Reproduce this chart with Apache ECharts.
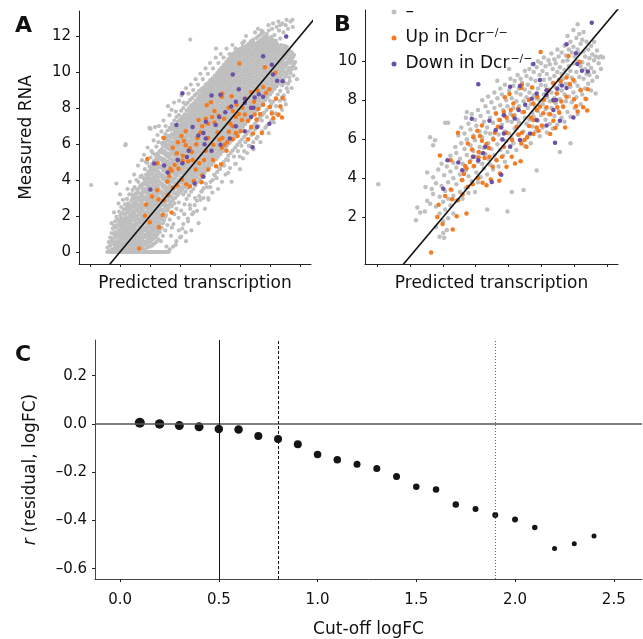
<!DOCTYPE html>
<html>
<head>
<meta charset="utf-8">
<script src="https://cdn.jsdelivr.net/npm/echarts@6/dist/echarts.min.js"></script>
<style>
html, body { margin: 0; padding: 0; background: #fff; }
#main { width: 643px; height: 639px; }
</style>
</head>
<body>
<div id="main"></div>
<script>
// gray genes, one row per predicted value: [x, measured y, measured y, ...]
var grayA = [
  [0.04, 3.72], [0.58, 0, 0.25], [0.63, 0.05, 0.55], [0.67, 0, 0.35, 0.8], [0.72, 0, 0.15, 0.6, 1.05],
  [0.76, 0, 0.45, 0.75, 1.3], [0.81, 0, 0.2, 0.55, 0.95, 1.45], [0.84, 0, 0.35, 0.8, 1.1, 1.7],
  [0.88, 0, 0.15, 0.5, 0.9, 1.35, 1.95, 3.8], [0.93, 0, 0.3, 0.65, 1.05, 1.5, 1.8],
  [0.97, 0, 0.1, 0.45, 0.85, 1.2, 1.6, 2.25], [1.01, 0, 0.25, 0.6, 0.95, 1.4, 1.75, 2.05],
  [1.04, 0, 0.05, 0.4, 0.75, 1.15, 1.55, 1.9, 2.5], [1.08, 0, 0.3, 0.55, 0.9, 1.3, 1.65, 2.15],
  [1.12, 0, 0.15, 0.45, 0.8, 1.1, 1.45, 1.85, 2.35], [1.16, 0, 0.35, 0.7, 1.0, 1.35, 1.75, 2.1, 2.65],
  [1.19, 0, 0.1, 0.5, 0.85, 1.2, 1.6, 1.95, 2.4, 6.0], [1.23, 0, 0.25, 0.65, 0.95, 1.3, 1.7, 2.2, 2.55, 2.95],
  [1.27, 0, 0.4, 0.75, 1.1, 1.45, 1.85, 2.3, 2.7], [1.31, 0, 0.2, 0.55, 0.9, 1.25, 1.65, 2.0, 2.45, 3.2],
  [1.34, 0, 0.35, 0.7, 1.05, 1.4, 1.8, 2.15, 2.6], [1.38, 0, 0.1, 0.5, 0.85, 1.2, 1.55, 1.95, 2.35, 2.85],
  [1.42, 0, 0.3, 0.65, 1.0, 1.35, 1.75, 2.1, 2.5, 3.0, 3.45], [1.46, 0, 0.15, 0.5, 0.8, 1.15, 1.5, 1.9, 2.25, 2.7, 3.1],
  [1.49, 0, 0.4, 0.7, 1.05, 1.4, 1.8, 2.2, 2.55, 2.95, 3.6], [1.53, 0, 0.2, 0.55, 0.9, 1.25, 1.6, 2.0, 2.4, 2.8, 3.25],
  [1.57, 0, 0.35, 0.75, 1.1, 1.5, 1.85, 2.3, 2.65, 3.05, 3.45], [1.61, 0, 0.1, 0.5, 0.85, 1.2, 1.65, 2.05, 2.45, 2.9, 3.3, 3.9],
  [1.64, 0, 0.3, 0.65, 1.0, 1.4, 1.8, 2.2, 2.6, 3.0, 3.55], [1.68, 0, 0.15, 0.55, 0.9, 1.3, 1.7, 2.1, 2.5, 2.85, 3.25, 3.7],
  [1.72, 0, 0.4, 0.75, 1.15, 1.55, 1.95, 2.35, 2.75, 3.15, 3.6, 4.25], [1.76, 0, 0.2, 0.6, 1.0, 1.4, 1.8, 2.25, 2.65, 3.05, 3.4, 3.8],
  [1.79, 0, 0.35, 0.8, 1.2, 1.6, 2.0, 2.45, 2.9, 3.3, 3.75, 4.1], [1.83, 0, 0.1, 0.55, 0.95, 1.35, 1.8, 2.2, 2.6, 3.05, 3.5, 3.95, 4.6],
  [1.87, 0, 0.45, 0.85, 1.25, 1.7, 2.1, 2.55, 2.95, 3.4, 3.85, 4.3], [1.91, 0, 0.25, 0.65, 1.1, 1.5, 1.95, 2.4, 2.8, 3.25, 3.7, 4.15, 4.95],
  [1.94, 0, 0.5, 0.9, 1.35, 1.8, 2.2, 2.65, 3.1, 3.55, 4.0, 4.45], [1.98, 0, 0.3, 0.75, 1.15, 1.6, 2.05, 2.5, 2.95, 3.4, 3.85, 4.3, 4.75, 6.9],
  [2.02, 0, 0.55, 1.0, 1.45, 1.9, 2.35, 2.8, 3.2, 3.65, 4.1, 4.6, 5.25, 6.85], [2.06, 0, 0.35, 0.85, 1.3, 1.75, 2.2, 2.65, 3.1, 3.5, 3.95, 4.45, 4.9],
  [2.09, 0, 0.7, 1.15, 1.6, 2.05, 2.5, 2.95, 3.4, 3.85, 4.3, 4.75, 5.5], [2.13, 0, 0.45, 0.95, 1.4, 1.85, 2.3, 2.8, 3.25, 3.7, 4.15, 4.6, 5.05],
  [2.17, 0, 0.8, 1.25, 1.7, 2.15, 2.65, 3.1, 3.55, 4.0, 4.5, 4.95, 5.4], [2.21, 0, 0.55, 1.05, 1.5, 2.0, 2.45, 2.9, 3.4, 3.85, 4.3, 4.8, 5.2, 5.85],
  [2.24, 0, 0.95, 1.4, 1.85, 2.3, 2.75, 3.25, 3.7, 4.15, 4.65, 5.1, 5.45], [2.28, 0, 0.7, 1.2, 1.65, 2.15, 2.6, 3.05, 3.55, 4.0, 4.45, 4.95, 5.35, 6.1],
  [2.32, 0, 1.1, 1.55, 2.0, 2.5, 2.95, 3.4, 3.9, 4.35, 4.8, 5.25, 5.6], [2.36, 0, 0.6, 1.3, 1.8, 2.3, 2.8, 3.25, 3.75, 4.2, 4.7, 5.15, 5.55],
  [2.39, 0, 1.35, 1.85, 2.35, 2.85, 3.35, 3.8, 4.3, 4.75, 5.2, 5.7, 6.05], [2.43, 0, 0.9, 1.6, 2.1, 2.6, 3.1, 3.6, 4.05, 4.55, 5.0, 5.5, 5.9, 6.35],
  [2.47, 0, 1.75, 2.25, 2.75, 3.25, 3.7, 4.2, 4.7, 5.15, 5.6, 6.1], [2.51, 0, 1.2, 1.95, 2.45, 2.95, 3.45, 3.95, 4.45, 4.9, 5.4, 5.85, 6.55],
  [2.54, 0, 2.05, 2.6, 3.1, 3.6, 4.1, 4.6, 5.05, 5.5, 6.0, 6.35], [2.58, 0, 1.5, 2.3, 2.85, 3.35, 3.85, 4.35, 4.8, 5.3, 5.75, 6.2, 6.75],
  [2.62, 0, 2.45, 2.95, 3.5, 4.0, 4.5, 5.0, 5.45, 5.95, 6.45], [2.66, 0.15, 1.8, 2.65, 3.2, 3.7, 4.2, 4.75, 5.2, 5.7, 6.15, 6.9],
  [2.69, 2.8, 3.35, 3.9, 4.4, 4.9, 5.4, 5.9, 6.35, 6.8], [2.73, 1.35, 2.55, 3.05, 3.6, 4.1, 4.65, 5.15, 5.6, 6.1, 6.55, 7.1],
  [2.77, 0.3, 2.9, 3.45, 4.0, 4.5, 5.0, 5.55, 6.0, 6.5, 6.95], [2.81, 2.1, 2.7, 3.25, 3.8, 4.3, 4.85, 5.35, 5.85, 6.3, 6.75, 7.3],
  [2.84, 3.0, 3.55, 4.1, 4.6, 5.15, 5.65, 6.15, 6.6, 7.05], [2.88, 0.6, 2.4, 3.3, 3.85, 4.4, 4.9, 5.45, 5.95, 6.45, 6.9, 7.5],
  [2.92, 3.15, 3.7, 4.25, 4.75, 5.3, 5.8, 6.3, 6.75, 7.25], [2.96, 1.2, 2.75, 3.45, 4.0, 4.55, 5.05, 5.6, 6.1, 6.6, 7.05, 7.6],
  [3.00, 3.3, 3.85, 4.4, 4.9, 5.45, 5.95, 6.45, 6.9, 7.35], [3.04, 0.85, 2.3, 3.6, 4.15, 4.7, 5.2, 5.75, 6.25, 6.75, 7.2, 7.85],
  [3.07, 3.45, 4.0, 4.55, 5.05, 5.6, 6.1, 6.6, 7.05, 7.5], [3.11, 1.55, 3.2, 3.8, 4.35, 4.85, 5.4, 5.9, 6.4, 6.9, 7.35, 8.0],
  [3.15, 2.65, 3.6, 4.15, 4.7, 5.2, 5.75, 6.25, 6.75, 7.2, 7.65], [3.19, 1.1, 3.35, 3.95, 4.5, 5.0, 5.55, 6.05, 6.6, 7.05, 7.5, 8.2],
  [3.22, 2.95, 3.75, 4.3, 4.85, 5.35, 5.9, 6.4, 6.9, 7.35, 7.85], [3.26, 1.85, 3.55, 4.1, 4.65, 5.15, 5.7, 6.2, 6.75, 7.2, 7.65, 8.3],
  [3.30, 3.15, 3.9, 4.45, 5.0, 5.5, 6.05, 6.55, 7.05, 7.5, 8.0], [3.34, 2.4, 3.7, 4.25, 4.8, 5.35, 5.85, 6.4, 6.9, 7.35, 7.8, 8.45, 11.8],
  [3.37, 3.35, 4.05, 4.6, 5.15, 5.7, 6.2, 6.7, 7.2, 7.65, 8.15], [3.41, 2.1, 3.85, 4.4, 4.95, 5.5, 6.0, 6.55, 7.05, 7.5, 7.95, 8.55],
  [3.45, 3.5, 4.2, 4.75, 5.3, 5.85, 6.35, 6.85, 7.35, 7.8, 8.25], [3.49, 2.6, 4.0, 4.55, 5.1, 5.65, 6.2, 6.7, 7.2, 7.65, 8.1, 8.7],
  [3.52, 3.7, 4.35, 4.9, 5.45, 6.0, 6.5, 7.0, 7.5, 7.95, 8.4], [3.56, 2.85, 4.15, 4.7, 5.25, 5.8, 6.35, 6.85, 7.35, 7.8, 8.25, 8.8],
  [3.60, 3.9, 4.5, 5.05, 5.6, 6.15, 6.65, 7.15, 7.65, 8.1, 8.55], [3.64, 3.1, 4.3, 4.85, 5.4, 5.95, 6.5, 7.0, 7.5, 7.95, 8.4, 8.95],
  [3.67, 4.05, 4.65, 5.2, 5.75, 6.3, 6.8, 7.3, 7.8, 8.25, 8.7], [3.71, 3.35, 4.45, 5.0, 5.55, 6.1, 6.65, 7.15, 7.65, 8.1, 8.55, 9.05],
  [3.75, 4.25, 4.8, 5.35, 5.9, 6.45, 6.95, 7.45, 7.95, 8.4, 8.85], [3.79, 3.55, 4.6, 5.15, 5.7, 6.25, 6.8, 7.3, 7.8, 8.25, 8.7, 9.15],
  [3.82, 4.4, 4.95, 5.5, 6.05, 6.6, 7.1, 7.6, 8.1, 8.55, 9.0], [3.86, 3.8, 4.75, 5.3, 5.85, 6.4, 6.95, 7.45, 7.95, 8.4, 8.85, 9.3],
  [3.90, 4.55, 5.1, 5.65, 6.2, 6.75, 7.25, 7.75, 8.25, 8.7, 9.1], [3.94, 3.0, 4.9, 5.45, 6.0, 6.55, 7.1, 7.6, 8.1, 8.55, 9.0, 9.4],
  [3.97, 4.7, 5.25, 5.8, 6.35, 6.9, 7.4, 7.9, 8.4, 8.85, 9.25], [4.01, 3.6, 5.05, 5.6, 6.15, 6.7, 7.25, 7.75, 8.25, 8.7, 9.15, 9.55],
  [4.05, 4.85, 5.4, 5.95, 6.5, 7.05, 7.55, 8.05, 8.55, 9.0, 9.4], [4.09, 4.0, 5.2, 5.75, 6.3, 6.85, 7.4, 7.9, 8.4, 8.85, 9.3, 9.65],
  [4.12, 5.0, 5.55, 6.1, 6.65, 7.2, 7.7, 8.2, 8.7, 9.15, 9.5], [4.16, 4.25, 5.35, 5.9, 6.45, 7.0, 7.55, 8.05, 8.55, 9.0, 9.45, 9.8],
  [4.20, 5.15, 5.7, 6.25, 6.8, 7.35, 7.85, 8.35, 8.85, 9.3, 9.7, 11.3], [4.24, 4.45, 5.5, 6.05, 6.6, 7.15, 7.7, 8.2, 8.7, 9.15, 9.6, 9.95],
  [4.27, 5.3, 5.85, 6.4, 6.95, 7.5, 8.0, 8.5, 9.0, 9.45, 9.85], [4.31, 4.65, 5.65, 6.2, 6.75, 7.3, 7.85, 8.35, 8.85, 9.3, 9.75, 10.1],
  [4.35, 5.45, 6.0, 6.55, 7.1, 7.65, 8.15, 8.65, 9.15, 9.6, 10.0], [4.39, 4.8, 5.8, 6.35, 6.9, 7.45, 8.0, 8.5, 9.0, 9.45, 9.9, 10.25],
  [4.42, 5.6, 6.15, 6.7, 7.25, 7.8, 8.3, 8.8, 9.3, 9.75, 10.15], [4.46, 5.0, 5.95, 6.5, 7.05, 7.6, 8.15, 8.65, 9.15, 9.6, 10.05, 10.4],
  [4.50, 5.75, 6.3, 6.85, 7.4, 7.95, 8.45, 8.95, 9.45, 9.9, 10.3], [4.54, 5.15, 6.1, 6.65, 7.2, 7.75, 8.3, 8.8, 9.3, 9.75, 10.2, 10.55],
  [4.57, 5.9, 6.45, 7.0, 7.55, 8.1, 8.6, 9.1, 9.6, 10.05, 10.45], [4.61, 4.4, 5.35, 6.25, 6.8, 7.35, 7.9, 8.45, 8.95, 9.45, 9.9, 10.35, 10.7],
  [4.65, 6.05, 6.6, 7.15, 7.7, 8.25, 8.75, 9.25, 9.75, 10.2, 10.6], [4.69, 5.5, 6.4, 6.95, 7.5, 8.05, 8.6, 9.1, 9.6, 10.05, 10.5, 10.85],
  [4.72, 6.2, 6.75, 7.3, 7.85, 8.4, 8.9, 9.4, 9.9, 10.35, 10.75], [4.76, 5.65, 6.55, 7.1, 7.65, 8.2, 8.75, 9.25, 9.75, 10.2, 10.65, 11.0],
  [4.80, 6.35, 6.9, 7.45, 8.0, 8.55, 9.05, 9.55, 10.05, 10.5, 10.9], [4.84, 4.9, 5.8, 6.7, 7.25, 7.8, 8.35, 8.9, 9.4, 9.9, 10.35, 10.8, 11.1],
  [4.87, 6.5, 7.05, 7.6, 8.15, 8.7, 9.2, 9.7, 10.2, 10.65, 11.0], [4.91, 5.95, 6.85, 7.4, 7.95, 8.5, 9.05, 9.55, 10.05, 10.5, 10.95, 11.25],
  [4.95, 6.65, 7.2, 7.75, 8.3, 8.85, 9.35, 9.85, 10.35, 10.8, 11.15], [4.99, 5.3, 6.1, 7.0, 7.55, 8.1, 8.65, 9.2, 9.7, 10.2, 10.65, 11.05],
  [5.02, 6.8, 7.35, 7.9, 8.45, 9.0, 9.5, 10.0, 10.5, 10.95, 11.3], [5.06, 6.25, 7.15, 7.7, 8.25, 8.8, 9.35, 9.85, 10.35, 10.8, 11.2],
  [5.10, 6.95, 7.5, 8.05, 8.6, 9.15, 9.65, 10.15, 10.6, 11.05, 11.4], [5.14, 5.6, 6.4, 7.3, 7.85, 8.4, 8.95, 9.5, 10.0, 10.5, 10.95, 11.3, 11.7],
  [5.17, 7.1, 7.65, 8.2, 8.75, 9.3, 9.8, 10.3, 10.75, 11.2], [5.21, 6.55, 7.45, 8.0, 8.55, 9.1, 9.65, 10.15, 10.65, 11.1, 11.45],
  [5.25, 7.25, 7.8, 8.35, 8.9, 9.45, 9.95, 10.45, 10.9, 11.3], [5.29, 5.9, 6.7, 7.6, 8.15, 8.7, 9.25, 9.8, 10.3, 10.8, 11.2, 11.55],
  [5.32, 7.4, 7.95, 8.5, 9.05, 9.6, 10.1, 10.6, 11.05, 11.4], [5.36, 6.85, 7.75, 8.3, 8.85, 9.4, 9.95, 10.45, 10.95, 11.35, 11.7],
  [5.40, 7.55, 8.1, 8.65, 9.2, 9.75, 10.25, 10.75, 11.15, 11.5], [5.44, 6.1, 7.0, 7.9, 8.45, 9.0, 9.55, 10.1, 10.6, 11.05, 11.45, 11.8],
  [5.47, 7.7, 8.25, 8.8, 9.35, 9.9, 10.4, 10.9, 11.3, 11.6], [5.51, 7.15, 8.05, 8.6, 9.15, 9.7, 10.25, 10.75, 11.2, 11.55],
  [5.55, 7.85, 8.4, 8.95, 9.5, 10.05, 10.55, 11.05, 11.45, 11.9], [5.59, 6.4, 7.3, 8.2, 8.75, 9.3, 9.85, 10.4, 10.9, 11.3, 11.65],
  [5.62, 8.0, 8.55, 9.1, 9.65, 10.2, 10.7, 11.15, 11.5, 12.0], [5.66, 7.45, 8.35, 8.9, 9.45, 10.0, 10.55, 11.0, 11.4, 11.75],
  [5.70, 8.15, 8.7, 9.25, 9.8, 10.35, 10.85, 11.25, 11.6, 12.1], [5.74, 6.7, 7.6, 8.5, 9.05, 9.6, 10.15, 10.7, 11.1, 11.5, 11.85],
  [5.77, 8.3, 8.85, 9.4, 9.95, 10.5, 11.0, 11.35, 11.7, 12.2], [5.81, 7.75, 8.65, 9.2, 9.75, 10.3, 10.8, 11.2, 11.6, 11.95],
  [5.85, 8.45, 9.0, 9.55, 10.1, 10.65, 11.1, 11.45, 11.8], [5.89, 7.0, 7.9, 8.8, 9.35, 9.9, 10.45, 10.95, 11.35, 11.7, 12.1],
  [5.92, 8.6, 9.15, 9.7, 10.25, 10.8, 11.25, 11.6, 11.9], [5.96, 8.05, 8.95, 9.5, 10.05, 10.6, 11.1, 11.5, 11.8, 12.3],
  [6.00, 8.75, 9.3, 9.85, 10.4, 10.9, 11.35, 11.7], [6.04, 7.3, 8.2, 9.1, 9.65, 10.2, 10.75, 11.2, 11.55, 11.95],
  [6.07, 8.9, 9.45, 10.0, 10.55, 11.05, 11.45, 11.8, 12.4], [6.11, 8.35, 9.25, 9.8, 10.35, 10.85, 11.3, 11.65],
  [6.15, 9.05, 9.6, 10.15, 10.7, 11.15, 11.5, 12.05], [6.19, 7.7, 8.55, 9.4, 9.95, 10.5, 11.0, 11.4, 11.75],
  [6.22, 9.2, 9.75, 10.3, 10.8, 11.25, 11.6, 12.5], [6.26, 8.75, 9.55, 10.1, 10.6, 11.1, 11.45],
  [6.30, 9.35, 9.9, 10.45, 10.95, 11.35, 12.3], [6.34, 8.1, 8.95, 9.7, 10.25, 10.75, 11.2, 11.85, 12.6],
  [6.37, 9.5, 10.05, 10.55, 11.05, 11.5], [6.41, 8.6, 9.25, 9.85, 10.4, 10.9, 11.3, 12.7],
  [6.45, 9.6, 10.2, 10.7, 11.15, 12.2], [6.49, 8.45, 9.4, 10.0, 10.5, 11.0, 11.45],
  [6.52, 9.75, 10.3, 10.8, 11.25, 12.6], [6.56, 9.1, 9.9, 10.45, 10.95, 11.4],
  [6.60, 9.35, 10.1, 10.6, 11.1, 12.4], [6.64, 9.7, 10.25, 10.75, 11.2], [6.68, 9.95, 10.5, 10.9, 12.8],
  [6.72, 10.15, 10.65, 11.1], [6.76, 10.3, 10.8, 12.5], [6.80, 10.45, 10.95], [6.84, 10.55]
];
// loose gray genes on both flanks of the A cloud
var grayAEdge = [
  [2.55, 0.3], [2.7, 0.9], [2.78, 1.55], [2.86, 0.4], [2.95, 1.9], [3.0, 0.8], [3.08, 1.3], [3.14, 2.1], [3.2, 0.6],
  [3.27, 1.7], [3.33, 2.6], [3.38, 1.2], [3.45, 2.2], [3.5, 3.0], [3.57, 2.28], [3.62, 1.6], [3.68, 2.9], [3.74, 3.4],
  [3.78, 3.0], [3.83, 2.4], [3.9, 3.6], [3.95, 2.9], [4.02, 3.9], [4.08, 3.3], [4.14, 4.3], [4.22, 4.1], [4.27, 3.5],
  [4.33, 4.6], [4.4, 3.9], [4.47, 4.8], [4.52, 4.3], [4.6, 5.1], [4.67, 4.66], [4.72, 3.9], [4.8, 5.3], [4.86, 4.9],
  [4.93, 5.6], [5.0, 4.6], [5.05, 5.9], [5.1, 5.2], [5.18, 6.1], [5.24, 5.5], [5.33, 5.9], [5.38, 6.5], [5.45, 5.7],
  [5.5, 6.8], [5.55, 6.3], [5.62, 7.0], [5.68, 6.1], [5.73, 7.3], [5.78, 7.7], [5.84, 6.9], [5.9, 7.5], [5.96, 6.6],
  [6.0, 8.4], [6.06, 7.8], [6.13, 7.2], [6.2, 8.1], [6.26, 7.6], [6.33, 8.4], [6.4, 7.9], [6.46, 8.7], [6.53, 8.2],
  [6.6, 8.9], [6.66, 9.5], [6.72, 9.1], [6.78, 9.8], [6.85, 10.2], [6.9, 9.6],
  [0.72, 1.6], [0.8, 2.2], [0.95, 2.7], [1.0, 3.2], [1.1, 2.9], [1.18, 5.93], [1.25, 3.5], [1.33, 3.9], [1.4, 3.2],
  [1.47, 4.3], [1.55, 4.0], [1.6, 4.8], [1.68, 4.17], [1.73, 5.1], [1.8, 5.4], [1.86, 5.0], [1.92, 5.8], [2.0, 6.85],
  [2.05, 5.6], [2.12, 6.2], [2.17, 6.94], [2.25, 6.5], [2.3, 7.0], [2.38, 6.7], [2.45, 7.3], [2.52, 7.0], [2.6, 8.1],
  [2.65, 7.6], [2.72, 7.9], [2.8, 8.3], [2.86, 7.8], [2.97, 8.4], [3.05, 8.7], [3.12, 8.3], [3.2, 9.1], [3.28, 8.8],
  [3.36, 9.3], [3.44, 9.0], [3.52, 9.6], [3.6, 9.3], [3.68, 9.9], [3.76, 9.6], [3.85, 10.2], [3.93, 9.9], [4.0, 10.5],
  [4.1, 10.2], [4.19, 10.8], [4.28, 10.5], [4.36, 11.0], [4.45, 10.8], [4.55, 11.3], [4.65, 11.0], [4.75, 11.5],
  [4.85, 11.3], [5.08, 11.6], [5.2, 12.0], [5.4, 11.6], [5.5, 12.2], [5.6, 12.4], [5.72, 12.3], [5.95, 12.6],
  [6.1, 12.7], [6.28, 12.8], [6.55, 12.9], [6.75, 12.9]
];
var grayB = [
  [0.03, 3.7], [1.18, 1.85], [1.22, 2.5], [1.31, 2.25], [1.45, 2.3], [1.47, 3.55], [1.52, 2.85, 4.3], [1.61, 2.7, 6.1],
  [1.66, 3.45], [1.70, 3.2, 4.05, 5.7], [1.76, 5.95], [1.79, 1.5, 2.55, 3.75], [1.86, 4.45], [1.90, 1.0, 2.2, 3.05],
  [1.96, 3.6, 4.75], [2.01, 1.2, 1.8, 2.8], [2.04, 0.95, 4.15], [2.07, 2.4, 3.35, 6.85], [2.12, 1.35, 4.6],
  [2.16, 1.95, 2.95, 3.8, 6.85], [2.23, 2.6, 4.35, 5.15], [2.27, 3.4], [2.32, 2.2, 3.1, 4.0, 4.8], [2.38, 5.6],
  [2.41, 2.85, 3.7, 4.55, 5.3], [2.47, 6.2], [2.52, 3.3, 4.2, 5.0], [2.56, 5.8, 6.6], [2.60, 2.95, 3.9, 4.75],
  [2.66, 5.5, 6.3], [2.70, 3.5, 4.4, 7.1], [2.73, 5.2, 6.0, 7.4], [2.78, 3.25, 4.1, 6.8], [2.84, 4.9, 5.7, 6.5],
  [2.88, 3.85, 7.3], [2.93, 4.6, 5.4, 6.2], [2.98, 3.3, 5.95, 7.0], [3.02, 4.3, 5.1, 6.7], [3.07, 3.8, 4.85, 7.5],
  [3.12, 5.6, 6.4], [3.15, 4.05, 5.3, 7.2], [3.20, 4.75, 6.1, 8.0], [3.25, 4.5, 5.55, 6.9], [3.30, 5.25, 6.35, 7.7],
  [3.35, 2.4, 4.2, 6.6], [3.38, 5.0, 5.8, 7.4, 8.2], [3.44, 4.7, 6.3, 7.1], [3.48, 5.5, 7.9], [3.53, 4.45, 6.05, 6.85],
  [3.57, 5.2, 7.6, 8.4], [3.62, 4.95, 6.5, 7.3], [3.66, 5.75, 8.1, 9.0], [3.70, 4.6, 6.25, 7.0], [3.75, 5.45, 7.75, 8.6],
  [3.80, 6.0, 6.75, 8.3], [3.84, 5.15, 7.5], [3.89, 4.85, 6.4, 7.2, 8.8], [3.93, 5.9, 8.0], [3.97, 2.3, 5.35, 6.95, 7.7],
  [4.02, 6.3, 8.5, 9.6], [4.06, 5.65, 7.3, 9.1], [4.10, 3.3, 6.05, 6.9, 8.1], [4.15, 5.8, 7.6, 8.75], [4.19, 6.55, 7.25, 9.0],
  [4.24, 5.45, 7.95, 8.4], [4.28, 6.25, 7.0, 9.3], [4.32, 6.85, 7.7, 8.6], [4.37, 5.95, 8.3, 9.1], [4.41, 7.4, 8.9],
  [4.46, 3.4, 6.4, 7.95], [4.50, 5.65, 7.1, 8.55, 9.5], [4.55, 6.8, 8.15, 9.25], [4.59, 6.2, 7.6, 8.8], [4.64, 7.0, 8.4, 9.6],
  [4.68, 5.8, 7.8, 9.1], [4.73, 6.65, 7.35, 8.65, 9.85], [4.77, 7.15, 8.25, 9.45], [4.82, 6.4, 7.7, 9.0], [4.86, 4.4, 8.1, 9.7],
  [4.90, 6.95, 7.45, 8.6, 10.0], [4.95, 6.15, 8.0, 9.3], [4.99, 7.25, 8.8, 9.9], [5.04, 6.6, 7.8, 9.5], [5.08, 8.3, 9.05, 10.2],
  [5.13, 7.0, 7.55, 8.75, 9.75], [5.17, 6.35, 8.15, 9.35], [5.22, 7.3, 8.55, 10.05], [5.26, 6.8, 7.95, 9.1, 9.85],
  [5.31, 7.6, 8.4, 10.4], [5.35, 6.55, 8.9, 9.6], [5.40, 7.2, 8.1, 9.25, 10.1], [5.44, 7.85, 8.65, 9.9],
  [5.49, 6.75, 8.35, 9.45, 10.6], [5.53, 7.45, 9.05, 10.25], [5.57, 5.35, 8.05, 8.8, 9.7], [5.62, 7.1, 8.5, 9.35, 10.45],
  [5.66, 7.7, 9.1, 10.0], [5.71, 6.9, 8.3, 9.55, 10.8], [5.75, 7.95, 8.85, 10.3], [5.80, 7.4, 9.3, 10.05, 11.3],
  [5.84, 8.2, 9.75, 10.6], [5.89, 5.8, 7.15, 8.7, 9.5, 11.0], [5.93, 7.9, 9.15, 10.45], [5.98, 8.4, 9.9, 10.75, 11.6],
  [6.02, 7.6, 8.95, 10.25], [6.07, 8.15, 9.45, 11.2], [6.11, 7.3, 8.75, 10.0, 10.6, 11.9], [6.16, 9.2, 10.4, 11.4],
  [6.20, 7.8, 8.55, 9.75, 10.9], [6.25, 8.3, 9.95, 11.1], [6.29, 9.1, 10.5, 11.5], [6.34, 8.6, 9.6, 10.25],
  [6.38, 8.05, 9.35, 11.0], [6.43, 8.85, 9.85, 10.6], [6.47, 9.3, 10.15], [6.52, 8.5, 9.65, 10.8], [6.56, 9.0, 10.35],
  [6.61, 9.45, 10.05, 11.0], [6.66, 8.35, 10.25], [6.70, 9.2, 10.55], [6.75, 9.9, 10.2], [6.82, 9.6, 10.25], [6.88, 10.2]
];
// genes up / down in Dcr-/- (same genes drawn in A and B)
var upGenes = [
  [1.64, 0.20], [1.83, 2.01], [1.87, 2.64], [1.99, 1.65], [2.30, 1.38], [2.42, 2.06], [2.46, 2.88], [2.07, 3.09],
  [2.24, 3.43], [2.28, 2.92], [2.72, 2.20], [2.60, 3.17], [2.58, 3.91], [2.64, 4.22], [2.72, 4.51], [2.68, 4.63],
  [2.82, 4.83], [2.91, 5.11], [2.95, 4.63], [3.09, 5.07], [2.91, 3.70], [3.21, 3.77], [3.07, 4.01], [2.76, 3.57],
  [1.91, 5.17], [2.24, 4.93], [2.46, 6.34], [2.76, 5.79], [2.93, 6.10], [3.13, 6.17], [3.19, 5.93], [3.33, 5.76],
  [3.40, 5.55], [3.54, 5.99], [3.58, 6.34], [3.68, 6.64], [3.74, 6.99], [3.62, 7.33], [3.86, 7.40], [3.94, 7.12],
  [4.07, 7.50], [4.15, 7.19], [4.25, 6.64], [4.31, 6.23], [4.41, 6.34], [4.49, 5.96], [4.55, 5.62], [4.63, 6.68],
  [4.39, 5.79], [4.10, 5.11], [4.20, 4.76], [4.37, 4.87], [3.94, 4.59], [3.80, 5.11], [3.86, 5.62], [3.64, 4.93],
  [3.52, 4.59], [3.42, 5.11], [3.46, 3.94], [3.74, 4.25], [3.33, 3.64], [3.72, 3.87], [4.41, 8.80], [4.72, 8.66],
  [4.62, 8.01], [4.76, 7.84], [4.88, 8.18], [4.96, 7.67], [5.08, 8.01], [4.98, 10.47], [5.06, 7.33], [5.16, 7.64],
  [5.27, 7.29], [5.37, 7.98], [5.49, 7.64], [5.55, 7.36], [5.61, 7.94], [5.77, 8.18], [5.87, 8.83], [5.59, 8.97],
  [5.77, 9.17], [5.98, 9.04], [5.83, 10.27], [6.18, 9.96], [6.20, 8.52], [6.00, 8.05], [6.06, 7.70], [6.28, 7.64],
  [6.35, 8.08], [6.40, 7.47], [6.42, 8.56], [5.73, 6.61], [5.43, 6.58], [5.37, 6.95], [5.27, 6.27], [4.86, 6.61],
  [4.76, 6.27], [4.57, 6.10], [4.68, 7.12], [4.47, 7.40], [4.29, 7.57], [4.15, 7.84], [4.03, 8.32], [3.89, 8.15],
  [4.39, 8.63], [4.92, 6.44], [4.76, 6.99], [3.94, 6.34], [4.11, 5.96], [3.19, 6.71], [3.05, 6.44], [2.89, 5.48],
  [3.09, 5.35], [3.27, 5.04], [4.86, 7.50], [5.20, 8.52], [5.37, 8.87], [5.67, 7.67], [5.47, 8.35], [5.02, 6.71],
  [6.11, 7.43]
];
var downGenes = [
  [3.08, 8.82], [2.88, 7.05], [2.47, 4.81], [2.14, 4.92], [2.01, 3.47], [2.59, 4.41], [3.23, 5.28], [3.08, 4.93],
  [3.49, 3.81], [3.78, 4.18], [3.78, 6.61], [4.05, 8.70], [4.35, 8.73], [4.76, 9.86], [5.16, 8.52], [4.96, 9.04],
  [5.16, 8.29], [5.37, 8.01], [5.77, 10.88], [6.06, 10.41], [6.10, 9.86], [6.24, 9.52], [6.42, 9.48], [6.54, 11.98],
  [5.49, 8.59], [5.63, 8.76], [5.77, 8.63], [5.45, 8.01], [5.57, 6.95], [5.42, 5.82], [5.98, 7.12], [5.16, 6.71],
  [4.86, 6.99], [4.66, 6.30], [4.31, 7.50], [4.19, 7.06], [3.86, 7.23], [3.61, 6.47], [3.82, 5.99], [4.05, 5.62],
  [4.35, 5.96], [3.29, 5.62], [3.42, 6.95], [4.71, 8.08], [5.37, 7.50], [4.86, 8.35], [4.51, 7.77], [3.86, 6.30],
  [2.93, 5.11]
];
var fitLine = [[0.5, -1], [7.6, 13.2]]; // measured = 2 * predicted - 2

// panel C
var cutoffs = [0.1, 0.2, 0.3, 0.4, 0.5, 0.6, 0.7, 0.8, 0.9, 1.0, 1.1, 1.2, 1.3, 1.4, 1.5, 1.6, 1.7, 1.8, 1.9, 2.0, 2.1, 2.2, 2.3, 2.4];
var residualR = [0.005, 0.0, -0.007, -0.012, -0.021, -0.023, -0.05, -0.062, -0.084, -0.127, -0.149, -0.167, -0.185, -0.218, -0.261, -0.272, -0.334, -0.353, -0.378, -0.396, -0.429, -0.517, -0.497, -0.465];
var dotSizes = [10, 9.5, 9, 9, 8.5, 8.5, 8, 8, 8, 7.5, 7.5, 7, 7, 7, 6.5, 6.5, 6.5, 6, 6, 6, 5.5, 5, 5, 5];

var ticksAB = [0, 1, 2, 3, 4, 5, 6, 7];
var ticksAy = [0, 2, 4, 6, 8, 10, 12];
var ticksBy = [2, 4, 6, 8, 10];
var ticksCx = [0, 0.5, 1, 1.5, 2, 2.5];
var ticksCy = [-0.6, -0.4, -0.2, 0, 0.2];

var GRAY = '#bfbfbf', ORANGE = '#f47b20', PURPLE = '#6b50a6';
var FONT = 'DejaVu Sans';

function unfold(rows) {
    var out = [];
    rows.forEach(function (r) {
        for (var i = 1; i < r.length; i++) out.push([r[0], r[i]]);
    });
    return out;
}

function axisBase(ticks) {
    return {
        type: 'value',
        splitLine: { show: false },
        axisLine: { show: true, onZero: false, lineStyle: { color: '#222', width: 1 } },
        axisTick: { show: true, length: 3, customValues: ticks, lineStyle: { color: '#222' } },
        axisLabel: { customValues: ticks, color: '#111', fontFamily: FONT, fontSize: 15 },
        nameTextStyle: { color: '#111', fontFamily: FONT, fontSize: 17 }
    };
}

var axA_x = axisBase(ticksAB);
axA_x.min = -0.367; axA_x.max = 7.367; axA_x.gridIndex = 0;
axA_x.axisLabel.show = false;
axA_x.name = 'Predicted transcription'; axA_x.nameLocation = 'middle'; axA_x.nameGap = 11;

var axB_x = axisBase(ticksAB);
axB_x.min = -0.375; axB_x.max = 7.34; axB_x.gridIndex = 1;
axB_x.axisLabel.show = false;
axB_x.name = 'Predicted transcription'; axB_x.nameLocation = 'middle'; axB_x.nameGap = 11;

var axC_x = axisBase(ticksCx);
axC_x.min = -0.127; axC_x.max = 2.643; axC_x.gridIndex = 2;
axC_x.axisLine.lineStyle.color = '#444';
axC_x.axisLabel.margin = 14;
axC_x.axisLabel.formatter = function (v) { return v.toFixed(1); };
axC_x.name = 'Cut-off logFC'; axC_x.nameLocation = 'middle'; axC_x.nameGap = 42;

var axA_y = axisBase(ticksAy);
axA_y.min = -0.667; axA_y.max = 13.39; axA_y.gridIndex = 0;
axA_y.axisLabel.margin = 8;
axA_y.name = 'Measured RNA'; axA_y.nameLocation = 'middle'; axA_y.nameGap = 44;

var axB_y = axisBase(ticksBy);
axB_y.min = -0.395; axB_y.max = 12.63; axB_y.gridIndex = 1;
axB_y.axisLabel.margin = 8;

var axC_y = axisBase(ticksCy);
axC_y.min = -0.643; axC_y.max = 0.348; axC_y.gridIndex = 2;
axC_y.axisLine.lineStyle.color = '#444';
axC_y.axisLabel.margin = 8;
axC_y.axisLabel.formatter = function (v) {
    return (v < -0.001 ? '\u2013' : '') + Math.abs(v).toFixed(1);
};
axC_y.name = '{i|r} (residual, logFC)'; axC_y.nameLocation = 'middle'; axC_y.nameGap = 56;
axC_y.nameTextStyle.padding = [0, 20, 0, 0];
axC_y.nameTextStyle.rich = { i: { fontStyle: 'italic', fontFamily: FONT, fontSize: 17, color: '#111' } };

function dots(name, data, color, xi, size) {
    return {
        name: name, type: 'scatter', xAxisIndex: xi, yAxisIndex: xi,
        data: data, symbolSize: size, silent: true,
        itemStyle: { color: color, opacity: 1 }
    };
}
function fit(xi) {
    return {
        type: 'line', xAxisIndex: xi, yAxisIndex: xi, data: fitLine,
        showSymbol: false, silent: true, clip: true, z: 5,
        lineStyle: { color: '#111', width: 1.6 }
    };
}

var cData = cutoffs.map(function (c, i) { return [c, residualR[i], dotSizes[i]]; });

var option = {
    animation: false,
    backgroundColor: '#fff',
    grid: [
        { left: 79, top: 11, width: 232, height: 253, outerBoundsMode: 'none' },
        { left: 365, top: 10, width: 253, height: 254, outerBoundsMode: 'none' },
        { left: 95, top: 340, width: 547, height: 239, outerBoundsMode: 'none' }
    ],
    xAxis: [axA_x, axB_x, axC_x],
    yAxis: [axA_y, axB_y, axC_y],
    legend: {
        data: ['\u2013', 'Up in Dcr', 'Down in Dcr'],
        orient: 'vertical', left: 386.5, top: -3,
        icon: 'circle', itemWidth: 5, itemHeight: 5, itemGap: 6,
        selectedMode: false,
        textStyle: {
            fontFamily: FONT, fontSize: 17, color: '#111', lineHeight: 20, padding: [0, 0, 0, 4],
            rich: {
                a: { fontFamily: FONT, fontSize: 17, color: '#111' },
                s: { fontFamily: FONT, fontSize: 11, color: '#111', padding: [0, 0, 9, 1] }
            }
        },
        formatter: function (n) {
            if (n === '\u2013') return n;
            return '{a|' + n + '}{s|\u2212/\u2212}';
        }
    },
    series: [
        dots('\u2013', unfold(grayA).concat(grayAEdge), GRAY, 0, 4.2),
        dots('Up in Dcr', upGenes, ORANGE, 0, 4.5),
        dots('Down in Dcr', downGenes, PURPLE, 0, 4.5),
        fit(0),
        dots('\u2013', unfold(grayB), GRAY, 1, 4.5),
        dots('Up in Dcr', upGenes, ORANGE, 1, 4.5),
        dots('Down in Dcr', downGenes, PURPLE, 1, 4.5),
        fit(1),
        {
            type: 'line', xAxisIndex: 2, yAxisIndex: 2, data: [], silent: true, z: 1,
            markLine: {
                silent: true, symbol: 'none', label: { show: false },
                data: [
                    { yAxis: 0, lineStyle: { color: '#555', width: 1.5, type: 'solid' } },
                    { xAxis: 0.5, lineStyle: { color: '#111', width: 1, type: 'solid' } },
                    { xAxis: 0.8, lineStyle: { color: '#111', width: 1, type: [3, 2] } },
                    { xAxis: 1.9, lineStyle: { color: '#666', width: 1, type: [1, 2] } }
                ]
            }
        },
        {
            type: 'scatter', xAxisIndex: 2, yAxisIndex: 2, data: cData, z: 3, silent: true,
            symbolSize: function (d) { return d[2]; },
            itemStyle: { color: '#151515', opacity: 1 }
        }
    ],
    graphic: [
        { type: 'text', left: 15, top: 15, style: { text: 'A', font: 'bold 22px "DejaVu Sans"', fill: '#111' } },
        { type: 'text', left: 334, top: 14, style: { text: 'B', font: 'bold 22px "DejaVu Sans"', fill: '#111' } },
        { type: 'text', left: 15, top: 344, style: { text: 'C', font: 'bold 22px "DejaVu Sans"', fill: '#111' } }
    ]
};

var myChart = echarts.init(document.getElementById('main'));
myChart.setOption(option);
</script>
</body>
</html>
